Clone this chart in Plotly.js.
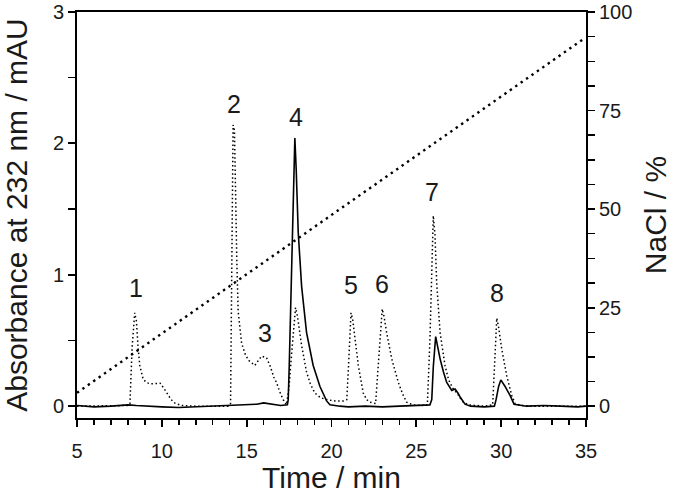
<!DOCTYPE html>
<html>
<head>
<meta charset="utf-8">
<script src="https://cdn.plot.ly/plotly-3.0.1.min.js"></script>
<style>
html,body{margin:0;padding:0;background:#fff;}
#chart{width:681px;height:494px;}
</style>
</head>
<body>
<div id="chart"></div>
<script>
// Sample A (dotted chromatogram), absorbance in mAU
const dottedTime = [5,6,7,8.0,8.12,8.25,8.4,8.5,8.6,8.7,8.9,9.1,9.3,9.6,9.9,10.1,10.3,10.55,10.8,11.2,12,13,13.9,
  14.05,14.12,14.2,14.28,14.35,14.42,14.5,14.6,14.7,14.9,15.1,15.3,15.48,15.7,15.88,16.17,16.4,16.6,16.76,16.95,17.15,17.35,
  17.5,17.65,17.88,18.0,18.24,18.53,18.75,19.02,19.35,19.71,20.2,20.69,20.9,21.0,21.15,21.25,21.38,21.58,21.87,22.07,22.27,
  22.6,22.75,22.99,23.1,23.25,23.55,23.94,24.2,24.43,24.8,25.3,25.65,25.8,26.0,26.1,26.2,26.4,26.69,26.9,27.18,27.4,27.6,27.77,
  28.1,29.0,29.5,29.6,29.74,29.85,30.04,30.33,30.63,30.82,31.2,32,33,34,35];
const dottedAbs = [0,0,0,0.005,0.02,0.45,0.71,0.65,0.45,0.31,0.205,0.18,0.17,0.17,0.175,0.14,0.10,0.05,0.02,0.005,0,0,0,
  0.02,1.2,2.14,2.1,1.5,1.1,0.72,0.57,0.48,0.40,0.35,0.33,0.31,0.35,0.38,0.37,0.30,0.22,0.18,0.11,0.05,0.01,
  0.15,0.40,0.75,0.68,0.46,0.26,0.17,0.10,0.065,0.05,0.04,0.04,0.05,0.3,0.71,0.66,0.53,0.31,0.10,0.05,0.03,
  0.02,0.3,0.74,0.68,0.56,0.36,0.18,0.09,0.03,0.01,0.005,0.01,0.5,1.45,1.3,0.94,0.56,0.31,0.2,0.13,0.1,0.06,0.03,
  0.01,0,0.01,0.3,0.67,0.6,0.43,0.23,0.08,0.02,0.005,0,0,0,0];

// Sample B (solid chromatogram)
const solidTime = [5,6,7,8,8.5,9,10,11,12,13,14,15,15.6,16.0,16.4,17.0,17.4,17.45,17.51,17.65,17.84,17.92,18.04,18.24,18.53,18.92,
  19.32,19.71,19.91,20.5,21,22,23,24,25,25.8,25.91,26.0,26.14,26.25,26.4,26.6,26.79,27.09,27.28,27.45,27.58,27.87,28.2,29,29.6,
  29.7,29.85,29.98,30.1,30.23,30.53,30.76,31.5,32.5,33.5,34.5,35];
const solidAbs = [0.005,-0.005,0,0.01,0.005,0,-0.005,-0.01,-0.005,0,0.005,0.01,0.015,0.025,0.015,0.005,0.01,0.05,0.31,1.07,2.04,1.8,1.32,0.91,0.56,0.31,
  0.15,0.04,0.01,0,-0.005,0,-0.005,0,0.005,0.01,0.05,0.3,0.53,0.45,0.36,0.26,0.18,0.12,0.13,0.1,0.07,0.015,0,-0.005,0,
  0.05,0.15,0.20,0.18,0.15,0.08,0.015,0,0.005,0,-0.005,0];

// NaCl gradient (%)
const gradTime = [5, 34.8];
const gradNaCl = [3.4, 93.0];

// Peak labels
const peakLabels = ['1','2','3','4','5','6','7','8'];
const peakLabelX = [8.46, 14.25, 16.07, 17.9, 21.12, 23.0, 25.95, 29.78];
const peakLabelY = [0.9, 2.3, 0.56, 2.2, 0.92, 0.93, 1.63, 0.86];

const FONT = 'Liberation Sans, Arial, sans-serif';

const traces = [
  {x: dottedTime, y: dottedAbs, type: 'scatter', mode: 'lines',
   line: {color: '#000', width: 1.5, dash: '1.5px,2.6px'}, hoverinfo: 'skip'},
  {x: solidTime, y: solidAbs, type: 'scatter', mode: 'lines',
   line: {color: '#000', width: 1.6}, hoverinfo: 'skip'},
  {x: gradTime, y: gradNaCl, type: 'scatter', mode: 'lines', yaxis: 'y2',
   line: {color: '#000', width: 2.4, dash: '2.4px,4.2px'}, hoverinfo: 'skip'}
];

const annotations = peakLabels.map((t, i) => ({
  x: peakLabelX[i], y: peakLabelY[i], xref: 'x', yref: 'y', text: t, showarrow: false,
  font: {family: FONT, size: 25, color: '#1a1a1a'}
}));

const layout = {
  width: 681, height: 494,
  margin: {l: 77, r: 95, t: 12, b: 76},
  paper_bgcolor: '#fff', plot_bgcolor: '#fff',
  showlegend: false,
  font: {family: FONT, color: '#1a1a1a'},
  xaxis: {
    range: [5, 35], tickvals: [5,10,15,20,25,30,35],
    showline: true, linecolor: '#000', linewidth: 2, mirror: true,
    ticks: 'outside', ticklen: 7, tickwidth: 1.8, tickcolor: '#000',
    minor: {dtick: 1, ticks: 'outside', ticklen: 5, tickwidth: 1.5, tickcolor: '#000'},
    showgrid: false, zeroline: false, ticklabelstandoff: 7,
    tickfont: {family: FONT, size: 20, color: '#1a1a1a'},
    title: {text: 'Time / min', font: {family: FONT, size: 30, color: '#1a1a1a'}, standoff: 12}
  },
  yaxis: {
    range: [-0.09, 3], tickvals: [0,1,2,3],
    showline: true, linecolor: '#000', linewidth: 2,
    ticks: 'outside', ticklen: 7, tickwidth: 1.8, tickcolor: '#000',
    minor: {dtick: 0.5, ticks: 'outside', ticklen: 7, tickwidth: 1.5, tickcolor: '#000'},
    showgrid: false, zeroline: false,
    tickfont: {family: FONT, size: 20, color: '#1a1a1a'},
    title: {text: 'Absorbance at 232 nm / mAU', font: {family: FONT, size: 30, color: '#1a1a1a'}, standoff: 16}
  },
  yaxis2: {
    range: [-3, 100], tickvals: [0,25,50,75,100], overlaying: 'y', side: 'right',
    showline: true, linecolor: '#000', linewidth: 2,
    ticks: 'outside', ticklen: 7, tickwidth: 1.8, tickcolor: '#000',
    minor: {dtick: 6.25, ticks: 'outside', ticklen: 7, tickwidth: 1.5, tickcolor: '#000'},
    showgrid: false, zeroline: false,
    tickfont: {family: FONT, size: 20, color: '#1a1a1a'},
    title: {text: 'NaCl / %', font: {family: FONT, size: 30, color: '#1a1a1a'}, standoff: 14}
  },
  annotations: annotations
};

Plotly.newPlot('chart', traces, layout, {staticPlot: true, displayModeBar: false});
</script>
</body>
</html>
